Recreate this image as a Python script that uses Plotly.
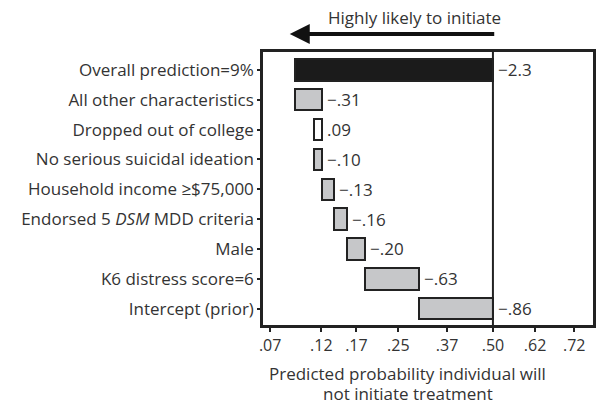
import numpy as np
import plotly.graph_objects as go

# Rows listed top to bottom; contributions are in logit units
categories = [
    "Overall prediction=9%",
    "All other characteristics",
    "Dropped out of college",
    "No serious suicidal ideation",
    "Household income ≥$75,000",
    "Endorsed 5 <i>DSM</i> MDD criteria",
    "Male",
    "K6 distress score=6",
    "Intercept (prior)",
]
contributions = [-2.3, -0.31, 0.09, -0.10, -0.13, -0.16, -0.20, -0.63, -0.86]
prior_probability = 0.50

tick_probs = [0.07, 0.12, 0.17, 0.25, 0.37, 0.50, 0.62, 0.72]
tick_text = [".07", ".12", ".17", ".25", ".37", ".50", ".62", ".72"]


def logit(p):
    p = np.asarray(p, dtype=float)
    return np.log(p / (1 - p))


def fmt(v):
    a = abs(v)
    s = f"{a:.1f}" if a >= 1 else f"{a:.2f}".lstrip("0")
    return ("\u2212" if v < 0 else "") + s


INK = "#222222"
TEXT = "#333333"
GRAY = "#c6c7c9"
FONT = "Open Sans"
FS = 17

# Waterfall: factors stack upward from the prior; the top row is the total
n = len(categories)
ypos = list(range(n - 1, -1, -1))
start = float(logit(prior_probability))
base_by_row = {}
running = start
for r in range(n - 1, 0, -1):
    base_by_row[r] = running
    running += contributions[r]
base_by_row[0] = start
bases = [base_by_row[i] for i in range(n)]
deltas = list(contributions)

fills = []
for i, v in enumerate(contributions):
    if i == 0:
        fills.append("#1b1b1b")
    elif v > 0:
        fills.append("white")
    else:
        fills.append(GRAY)

fig = go.Figure()
fig.add_trace(go.Bar(
    y=ypos, x=deltas, base=bases, orientation="h", width=0.72,
    marker=dict(color=fills, line=dict(color=INK, width=2)),
    hoverinfo="skip", showlegend=False,
))

# Value labels at the right end of each bar
for i in range(n):
    right = max(bases[i], bases[i] + deltas[i])
    fig.add_annotation(
        x=right, y=ypos[i], text=fmt(contributions[i]), showarrow=False,
        xanchor="left", yanchor="middle", xshift=3,
        font=dict(family=FONT, size=FS, color=TEXT),
    )

# Reference line at the prior
fig.add_shape(type="line", x0=start, x1=start, y0=0, y1=1, xref="x", yref="paper",
              line=dict(color=INK, width=2))

# Direction arrow and caption above the panel
fig.add_annotation(
    x=0.081, y=1.066, xref="paper", yref="paper", text="", showarrow=True,
    ax=206, ay=0, arrowhead=2, arrowsize=1.0, arrowwidth=4, arrowcolor="#111111",
)
fig.add_annotation(
    x=0.459, y=1.128, xref="paper", yref="paper", text="Highly likely to initiate",
    showarrow=False, xanchor="center", yanchor="middle",
    font=dict(family=FONT, size=FS, color=TEXT),
)

# Axis title, two lines
for txt, yy in [("Predicted probability individual will", -0.224),
                ("not initiate treatment", -0.296)]:
    fig.add_annotation(
        x=0.438, y=yy, xref="paper", yref="paper", text=txt, showarrow=False,
        xanchor="center", yanchor="bottom", borderpad=0,
        font=dict(family=FONT, size=FS, color=TEXT),
    )

fig.update_xaxes(
    range=[-2.67, 1.162], tickvals=logit(tick_probs), ticktext=tick_text,
    showgrid=False, zeroline=False, showline=True, linecolor=INK, linewidth=2.5,
    mirror=True, ticks="outside", ticklen=4, tickwidth=2, tickcolor=INK,
    tickfont=dict(family=FONT, size=16, color=TEXT),
)
fig.update_yaxes(
    range=[-0.55, 8.6], tickvals=ypos, ticktext=categories,
    showgrid=False, zeroline=False, showline=True, linecolor=INK, linewidth=2.5,
    mirror=True, ticks="outside", ticklen=3, tickwidth=2, tickcolor=INK,
    tickfont=dict(family=FONT, size=FS, color=TEXT),
)
fig.update_layout(
    width=598, height=402, margin=dict(l=263, r=2, t=52, b=77),
    paper_bgcolor="white", plot_bgcolor="white", bargap=0,
)
fig.write_html("out.html")
